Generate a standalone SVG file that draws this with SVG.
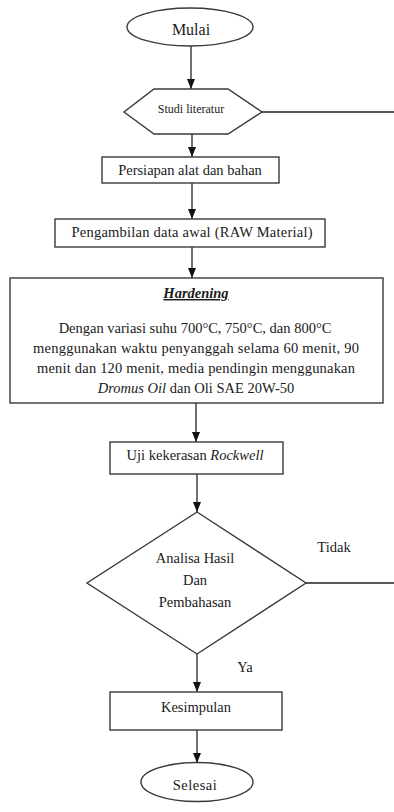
<svg xmlns="http://www.w3.org/2000/svg" width="394" height="812" viewBox="0 0 394 812" font-family="'Liberation Serif', 'DejaVu Serif', serif">
<style>
.s{fill:#fff;stroke:#3a3a3a;stroke-width:1.4}
.l{fill:none;stroke:#222;stroke-width:1.3}
.t{font-family:'Liberation Serif','DejaVu Serif',serif;font-size:14.5px;fill:#1a1a1a;text-anchor:middle}
</style>
<defs>
<marker id="ah" markerUnits="userSpaceOnUse" markerWidth="10" markerHeight="10" viewBox="0 0 10 10" refX="10" refY="5" orient="auto">
<path d="M0,1 L10,5 L0,9 Z" fill="#111"/>
</marker>
</defs>
<rect width="394" height="812" fill="#fff"/>
<g id="connectors">
<line class="l" x1="191" y1="46" x2="191" y2="89" marker-end="url(#ah)"/>
<line class="l" x1="262" y1="112" x2="394" y2="112"/>
<line class="l" x1="192" y1="134" x2="192" y2="157" marker-end="url(#ah)"/>
<line class="l" x1="192" y1="183" x2="192" y2="219" marker-end="url(#ah)"/>
<line class="l" x1="192" y1="247" x2="192" y2="278" marker-end="url(#ah)"/>
<line class="l" x1="196" y1="403" x2="196" y2="442" marker-end="url(#ah)"/>
<line class="l" x1="197" y1="474" x2="197" y2="512" marker-end="url(#ah)"/>
<line class="l" x1="306" y1="583" x2="394" y2="583"/>
<line class="l" x1="197" y1="654" x2="197" y2="692" marker-end="url(#ah)"/>
<line class="l" x1="197" y1="730" x2="197" y2="763" marker-end="url(#ah)"/>
<text class="t" x="334" y="552" font-size="14">Tidak</text>
<text class="t" x="245" y="672" font-size="14">Ya</text>
</g>
<g id="mulai">
<ellipse class="s" cx="190" cy="27" rx="63" ry="19"/>
<text class="t" x="191" y="35" style="font-size:16px">Mulai</text>
</g>
<g id="studi">
<polygon class="s" points="154,89 228,89 262,112 228,134 154,134 124,112"/>
<text class="t" x="191" y="113" style="font-size:12px">Studi literatur</text>
</g>
<g id="persiapan">
<rect class="s" x="102" y="157" width="177" height="26"/>
<text class="t" x="190" y="175">Persiapan alat dan bahan</text>
</g>
<g id="pengambilan">
<rect class="s" x="55" y="219" width="270" height="28"/>
<text class="t" x="192" y="237" textLength="241" lengthAdjust="spacing">Pengambilan data awal (RAW Material)</text>
</g>
<g id="hardening">
<rect class="s" x="10" y="278" width="373" height="125"/>
<text class="t" x="196" y="298" font-weight="bold" font-style="italic" text-decoration="underline">Hardening</text>
<text class="t" x="195" y="333">Dengan variasi suhu 700°C, 750°C, dan 800°C</text>
<text class="t" x="33" y="353" style="text-anchor:start" textLength="326" lengthAdjust="spacing">menggunakan waktu penyanggah selama 60 menit, 90</text>
<text class="t" x="37" y="373" style="text-anchor:start" textLength="318" lengthAdjust="spacing">menit dan 120 menit, media pendingin menggunakan</text>
<text class="t" x="196" y="393"><tspan font-style="italic">Dromus Oil</tspan> dan Oli SAE 20W-50</text>
</g>
<g id="uji">
<rect class="s" x="110" y="442" width="173" height="32"/>
<text class="t" x="195" y="460">Uji kekerasan <tspan font-style="italic">Rockwell</tspan></text>
</g>
<g id="analisa">
<polygon class="s" points="197,512 306,583 197,654 87,583"/>
<text class="t" x="195" y="563">Analisa Hasil</text>
<text class="t" x="195" y="585">Dan</text>
<text class="t" x="195" y="607">Pembahasan</text>
</g>
<g id="kesimpulan">
<rect class="s" x="110" y="692" width="172" height="38"/>
<text class="t" x="196" y="712">Kesimpulan</text>
</g>
<g id="selesai">
<ellipse class="s" cx="197" cy="782" rx="56" ry="19.5"/>
<text class="t" x="195" y="790" letter-spacing="0.5">Selesai</text>
</g>
</svg>
